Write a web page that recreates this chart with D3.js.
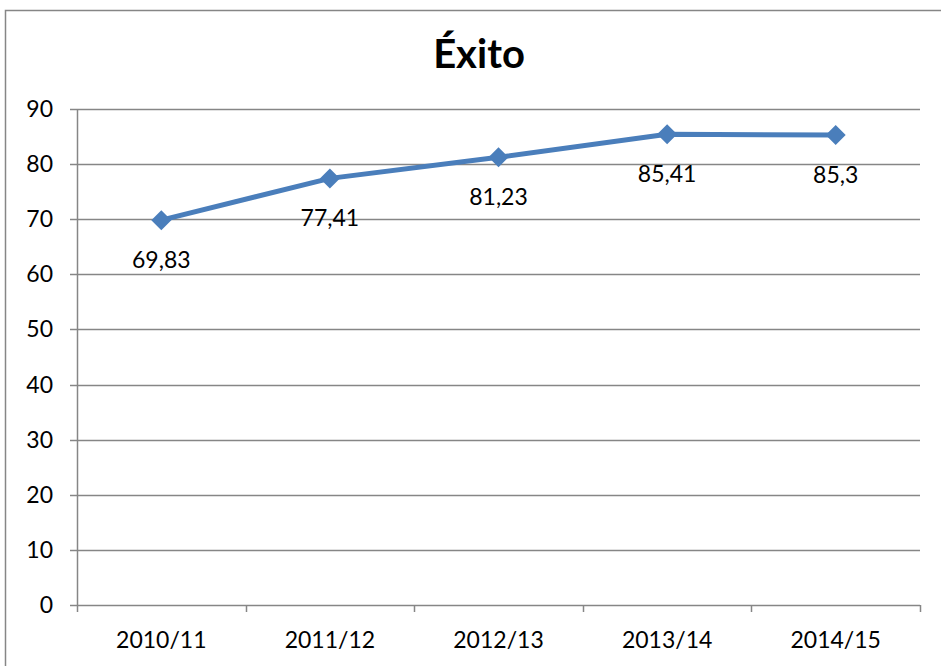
<!DOCTYPE html>
<html>
<head>
<meta charset="utf-8">
<script src="https://cdn.jsdelivr.net/npm/d3@7"></script>
<style>
  body { margin: 0; background: #fff; }
  svg { display: block; }
</style>
</head>
<body>
<div id="chart"></div>
<script>
// data
const categories = ['2010/11', '2011/12', '2012/13', '2013/14', '2014/15']
const values = [69.83, 77.41, 81.23, 85.41, 85.3]
const labels = ['69,83', '77,41', '81,23', '85,41', '85,3']
const yTicks = [0, 10, 20, 30, 40, 50, 60, 70, 80, 90]

const width = 941
const height = 666
const margin = { top: 109, right: 21, bottom: 61, left: 77 }
const lineColor = '#4a7ebb'
const gridColor = '#868686'
const font = 'Lato, "Open Sans", sans-serif'

const svg = d3.select('#chart').append('svg')
  .attr('width', width)
  .attr('height', height)

// outer frame
svg.append('rect')
  .attr('x', 5.5).attr('y', 10.5)
  .attr('width', width + 10).attr('height', height + 10)
  .attr('fill', 'none')
  .attr('stroke', '#868686')
  .attr('stroke-width', 1.5)

svg.append('text')
  .attr('x', 479).attr('y', 68)
  .attr('text-anchor', 'middle')
  .style('font', `bold 40px ${font}`)
  .text('Éxito')

const x = d3.scaleBand()
  .domain(categories)
  .range([margin.left, width - margin.right])

const y = d3.scaleLinear()
  .domain([0, 90])
  .range([height - margin.bottom, margin.top])

// gridlines
svg.append('g')
  .selectAll('line')
  .data(yTicks)
  .join('line')
  .attr('x1', margin.left - 7)
  .attr('x2', width - margin.right)
  .attr('y1', d => Math.round(y(d)) + 0.5)
  .attr('y2', d => Math.round(y(d)) + 0.5)
  .attr('stroke', gridColor)
  .attr('stroke-width', 1.5)

// y axis line
svg.append('line')
  .attr('x1', margin.left + 0.5).attr('x2', margin.left + 0.5)
  .attr('y1', y(90)).attr('y2', y(0) + 7)
  .attr('stroke', gridColor)
  .attr('stroke-width', 1.5)

// category boundary ticks
const bounds = categories.map(c => x(c)).concat([x(categories[categories.length - 1]) + x.bandwidth()])
svg.append('g')
  .selectAll('line')
  .data(bounds.slice(1))
  .join('line')
  .attr('x1', d => Math.round(d) + 0.5)
  .attr('x2', d => Math.round(d) + 0.5)
  .attr('y1', y(0))
  .attr('y2', y(0) + 7)
  .attr('stroke', gridColor)
  .attr('stroke-width', 1.5)

// y labels
svg.append('g')
  .selectAll('text')
  .data(yTicks)
  .join('text')
  .attr('x', 53)
  .attr('y', d => y(d))
  .attr('dy', '0.35em')
  .attr('text-anchor', 'end')
  .style('font', `23px ${font}`)
  .text(d => d)

// x labels
svg.append('g')
  .selectAll('text')
  .data(categories)
  .join('text')
  .attr('x', d => x(d) + x.bandwidth() / 2)
  .attr('y', 648)
  .attr('text-anchor', 'middle')
  .style('font', `23px ${font}`)
  .text(d => d)

const pts = categories.map((c, i) => ({ c, v: values[i], label: labels[i] }))
const cx = d => x(d.c) + x.bandwidth() / 2

svg.append('path')
  .datum(pts)
  .attr('fill', 'none')
  .attr('stroke', lineColor)
  .attr('stroke-width', 5)
  .attr('stroke-linejoin', 'round')
  .attr('d', d3.line().x(cx).y(d => y(d.v)))

svg.append('g')
  .selectAll('path')
  .data(pts)
  .join('path')
  .attr('transform', d => `translate(${cx(d)},${y(d.v)})`)
  .attr('d', 'M0,-10L10,0L0,10L-10,0Z')
  .attr('fill', lineColor)

svg.append('g')
  .selectAll('text')
  .data(pts)
  .join('text')
  .attr('x', cx)
  .attr('y', d => y(d.v) + 40)
  .attr('dy', '0.35em')
  .attr('text-anchor', 'middle')
  .style('font', `23px ${font}`)
  .text(d => d.label)
</script>
</body>
</html>
